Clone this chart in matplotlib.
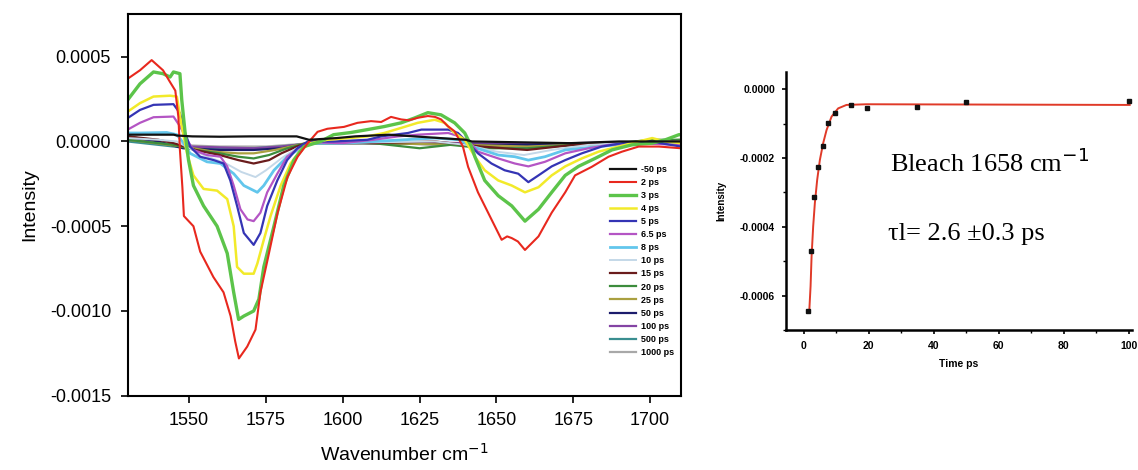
import matplotlib
matplotlib.use("Agg")
import matplotlib.pyplot as plt
import numpy as np
from matplotlib.ticker import MultipleLocator

plt.rcParams['font.family'] = ['Liberation Sans', 'DejaVu Sans']

# transient IR spectra, intensity in units of 1e-4
wn_m50 = [1530, 1545, 1546, 1551, 1560, 1570, 1585, 1589, 1598, 1604, 1615, 1640, 1642, 1674, 1690, 1710]
int_m50 = [0.4, 0.4, 0.35, 0.3, 0.28, 0.3, 0.3, 0.1, 0.2, 0.3, 0.4, 0.1, 0, -0.1, 0, 0]

wn_2 = [1530, 1534, 1537.8, 1541.5, 1543.8, 1545.5, 1546.5, 1547, 1547.8, 1548.3, 1551.4, 1553.6, 1557.9,
        1561.2, 1563.5, 1565, 1566.2, 1568.9, 1571.6, 1573.2, 1575.5, 1578.8, 1582, 1585.3, 1588.6, 1591.8,
        1595, 1600.4, 1604.8, 1609.2, 1612.5, 1615.7, 1619, 1621.5, 1624.5, 1627.7, 1630, 1632, 1634.2,
        1636.4, 1639.1, 1640.8, 1644, 1647.3, 1651.7, 1653.5, 1655, 1657, 1659.3, 1661.5, 1663.7, 1668,
        1672.4, 1675.6, 1681, 1686.5, 1690.9, 1696.3, 1702.9, 1710]
int_2 = [3.7, 4.2, 4.8, 4.2, 3.5, 3.0, 1.45, -0.5, -2.7, -4.4, -5.0, -6.5, -8.0,
         -8.9, -10.3, -11.8, -12.8, -12.1, -11.1, -8.9, -7.0, -4.2, -2.1, -0.9, -0.1, 0.57,
         0.75, 0.86, 1.1, 1.2, 1.15, 1.45, 1.3, 1.25, 1.4, 1.5, 1.45, 1.3, 0.9,
         0.6, -0.3, -1.5, -3.0, -4.2, -5.8, -5.6, -5.7, -5.9, -6.4, -6.0, -5.6, -4.2,
         -3.0, -2.0, -1.5, -0.9, -0.6, -0.3, -0.3, -0.4]

wn_3 = [1530, 1534, 1538.4, 1541.5, 1543.8, 1544.9, 1547, 1547.6, 1548.7, 1549.8, 1551.4, 1554.7, 1559.1,
        1562.4, 1564.5, 1566.1, 1567.8, 1571, 1572.7, 1574.3, 1577.6, 1580.8, 1584.1, 1587.4, 1592.8, 1597,
        1602.7, 1608, 1613.5, 1619, 1623.3, 1627.7, 1632, 1636.4, 1639.7, 1641.9, 1643, 1646.2, 1650.6,
        1655, 1659.3, 1663.7, 1668, 1672.4, 1676.7, 1682.1, 1687.6, 1694.1, 1700.7, 1705, 1709.4, 1710]
int_3 = [2.45, 3.4, 4.1, 4.0, 3.8, 4.1, 4.0, 2.45, 0.5, -1.1, -2.6, -3.8, -5.0,
         -6.6, -8.9, -10.5, -10.3, -10.0, -9.3, -7.4, -5.0, -2.6, -1.1, -0.3, 0, 0.4,
         0.53, 0.7, 0.88, 1.1, 1.38, 1.7, 1.57, 1.1, 0.5, -0.3, -0.9, -2.3, -3.2,
         -3.8, -4.7, -4.0, -3.0, -2.0, -1.47, -1.0, -0.5, -0.2, -0.1, 0.1, 0.4, 0.4]

wn_4 = [1530, 1534, 1538.4, 1543.8, 1546, 1547.6, 1549.3, 1551.4, 1554.7, 1559.1, 1562.4, 1564.5, 1565.6,
        1567.8, 1571, 1572.2, 1574.3, 1576.5, 1579.8, 1583, 1586.3, 1589.6, 1595, 1602, 1608, 1613.5,
        1619, 1624.4, 1629.9, 1633.2, 1636.4, 1639.7, 1643, 1646.2, 1650.6, 1655, 1659.3, 1663.7, 1668,
        1672.4, 1677.8, 1683.3, 1689.8, 1696.3, 1700.7, 1705, 1710]
int_4 = [1.76, 2.26, 2.65, 2.7, 2.65, 0.9, -0.7, -2.0, -2.8, -2.9, -3.4, -5.0, -7.4,
         -7.8, -7.8, -7.2, -5.8, -4.4, -2.6, -1.3, -0.5, -0.1, 0.1, 0.2, 0.3, 0.5,
         0.8, 1.1, 1.28, 1.1, 0.5, 0.1, -0.9, -1.7, -2.3, -2.6, -3.0, -2.7, -2.0,
         -1.47, -1.0, -0.6, -0.3, 0, 0.2, 0, -0.1]

wn_5 = [1530, 1534, 1538.4, 1544.9, 1547, 1548.7, 1550.3, 1553.6, 1558, 1561.2, 1563.4, 1565.6, 1567.8,
        1571, 1573.2, 1575.4, 1578.7, 1581.9, 1585.2, 1588.6, 1597, 1608, 1612.5, 1621.2, 1625.6, 1634.3,
        1637.5, 1640.8, 1644, 1648.4, 1652.7, 1657.1, 1660.4, 1663.7, 1668, 1672.4, 1677.8, 1684.3,
        1690.9, 1700, 1710]
int_5 = [1.38, 1.86, 2.16, 2.2, 1.67, 0.5, -0.3, -0.9, -1.1, -1.3, -2.3, -3.8, -5.4,
         -6.1, -5.4, -3.8, -2.3, -1.1, -0.4, 0, 0, 0.1, 0.3, 0.5, 0.7, 0.7,
         0.5, -0.1, -0.7, -1.3, -1.7, -1.9, -2.4, -2.0, -1.47, -1.1, -0.7, -0.3,
         -0.1, 0, -0.3]

wn_6p5 = [1530, 1534, 1538.4, 1544.9, 1547, 1549.3, 1551.4, 1555.8, 1560.2, 1562.4, 1564.5, 1566.7, 1569,
          1571, 1573.2, 1575.4, 1578.7, 1581.9, 1586.3, 1590, 1600, 1610, 1618, 1624.4, 1634.3, 1638,
          1641, 1644, 1650.6, 1656, 1660.4, 1665.8, 1672.4, 1680, 1686.5, 1695, 1710]
int_6p5 = [0.7, 1.1, 1.43, 1.47, 0.9, 0.1, -0.5, -0.8, -0.9, -1.47, -2.6, -4.0, -4.6,
           -4.7, -4.2, -3.0, -1.9, -0.9, -0.3, -0.05, -0.1, 0.1, 0.3, 0.4, 0.5, 0.3,
           0, -0.6, -1.0, -1.3, -1.47, -1.2, -0.7, -0.4, -0.2, -0.1, -0.2]

wn_8 = [1530, 1534, 1542.7, 1546, 1548.2, 1550.3, 1555.8, 1560.2, 1564.5, 1567.8, 1572.2, 1574.3, 1577.6,
        1581.9, 1586.3, 1589.6, 1600, 1610, 1620, 1630, 1638, 1642, 1650.6, 1656, 1660.4, 1665.8,
        1672.4, 1683.3, 1695, 1710]
int_8 = [0.5, 0.5, 0.53, 0.4, -0.1, -0.7, -1.2, -1.3, -1.9, -2.6, -3.0, -2.6, -1.7,
         -0.9, -0.4, -0.1, -0.1, 0, 0.1, 0.2, 0.1, -0.3, -0.8, -0.9, -1.1, -0.9,
         -0.5, -0.3, -0.1, -0.1]

wn_10 = [1530, 1540, 1546, 1550, 1556, 1562, 1567, 1571.6, 1575, 1580, 1585, 1590, 1610, 1630, 1640,
         1650, 1659, 1668, 1680, 1695, 1710]
int_10 = [0.2, 0.1, 0, -0.4, -0.9, -1.3, -1.8, -2.1, -1.7, -1.0, -0.4, -0.1, -0.05, 0, -0.2,
          -0.6, -0.8, -0.5, -0.2, -0.05, 0]

wn_15 = [1530, 1540, 1545, 1552, 1560, 1566, 1571, 1576, 1580, 1585, 1590, 1610, 1630, 1645, 1660, 1675, 1690, 1710]
int_15 = [0.3, 0.1, -0.1, -0.5, -0.8, -1.1, -1.3, -1.1, -0.7, -0.3, 0, -0.1, 0, -0.3, -0.5, -0.2, -0.05, 0]

wn_20 = [1530, 1545, 1552, 1560, 1566, 1571, 1576, 1582, 1590, 1610, 1625, 1635, 1646, 1660, 1675, 1690, 1700, 1710]
int_20 = [0.1, -0.2, -0.5, -0.7, -0.9, -1.0, -0.8, -0.4, 0, -0.1, -0.4, -0.2, -0.4, -0.4, -0.2, -0.1, 0.1, 0.1]

wn_25 = [1530, 1548, 1558, 1566, 1571, 1578, 1588, 1610, 1640, 1660, 1690, 1710]
int_25 = [0.1, -0.3, -0.6, -0.7, -0.7, -0.5, -0.1, -0.1, -0.2, -0.3, -0.1, 0.1]

wn_50 = [1530, 1540, 1548, 1560, 1571, 1580, 1590, 1610, 1640, 1660, 1690, 1710]
int_50 = [0.3, 0.0, -0.4, -0.5, -0.5, -0.4, -0.1, -0.1, -0.2, -0.2, -0.05, -0.1]

wn_100 = [1530, 1540, 1550, 1560, 1571, 1580, 1590, 1610, 1640, 1660, 1690, 1710]
int_100 = [0.2, -0.1, -0.3, -0.35, -0.4, -0.3, -0.1, 0, -0.1, -0.15, -0.05, -0.05]

wn_500 = [1530, 1540, 1550, 1560, 1571, 1580, 1590, 1610, 1630, 1645, 1660, 1690, 1710]
int_500 = [0.0, -0.2, -0.4, -0.4, -0.4, -0.3, -0.1, -0.1, -0.1, -0.3, -0.3, -0.1, -0.1]

wn_1000 = [1530, 1545, 1560, 1575, 1590, 1610, 1640, 1660, 1690, 1710]
int_1000 = [0.1, -0.2, -0.3, -0.3, -0.1, -0.1, -0.15, -0.2, -0.1, 0]

labels = ["-50 ps", "2 ps", "3 ps", "4 ps", "5 ps", "6.5 ps", "8 ps", "10 ps", "15 ps",
          "20 ps", "25 ps", "50 ps", "100 ps", "500 ps", "1000 ps"]
colors = ["#111111", "#e8281e", "#5cc44a", "#f2ea2a", "#3434b4", "#b455c4", "#62c6ec", "#c4d8e8",
          "#6a1c1c", "#3c8c3c", "#aaa040", "#1c1c6c", "#8444a4", "#3a8e90", "#a8a8a8"]
widths = [1.6, 1.5, 2.4, 1.8, 1.6, 1.6, 2.0, 1.4, 1.6, 1.6, 1.6, 1.6, 1.6, 1.6, 1.6]

# kinetic trace of the 1658 cm-1 bleach, intensity in units of 1e-4
t_ps = [1.2, 2.2, 3.1, 4.3, 5.8, 7.4, 9.5, 14.5, 19.4, 34.8, 49.8, 100]
bleach = [-6.46, -4.72, -3.13, -2.26, -1.65, -0.99, -0.70, -0.46, -0.55, -0.52, -0.38, -0.35]
fit_t = [1.63, 2.06, 2.37, 2.86, 3.38, 4.09, 4.92, 5.94, 6.98, 8.52, 10.55, 13.1, 19.3, 100.3]
fit_y = [-6.5, -5.73, -4.86, -3.99, -3.31, -2.64, -2.06, -1.57, -1.19, -0.80, -0.56, -0.46, -0.44, -0.46]

spectra = [(wn_m50, int_m50), (wn_2, int_2), (wn_3, int_3), (wn_4, int_4), (wn_5, int_5),
           (wn_6p5, int_6p5), (wn_8, int_8), (wn_10, int_10), (wn_15, int_15), (wn_20, int_20),
           (wn_25, int_25), (wn_50, int_50), (wn_100, int_100), (wn_500, int_500), (wn_1000, int_1000)]

fig = plt.figure(figsize=(11.38, 4.70), dpi=100)
ax = fig.add_axes([0.1122, 0.158, 0.486, 0.8115])

# draw faint ones first, then the big ones on top, keeping legend order
order = list(range(len(spectra)))[::-1]
handles = {}
for i in order:
    wn, val = spectra[i]
    h, = ax.plot(wn, np.array(val) * 1e-4, color=colors[i], lw=widths[i], label=labels[i])
    handles[i] = h

ax.set_xlim(1530, 1710)
ax.set_ylim(-0.0015, 0.00075)
ax.set_xticks([1550, 1575, 1600, 1625, 1650, 1675, 1700])
ax.set_yticks([-0.0015, -0.0010, -0.0005, 0.0, 0.0005])
ax.yaxis.set_major_formatter(matplotlib.ticker.FuncFormatter(lambda v, p: f"{v:.4f}"))
ax.tick_params(labelsize=13, length=5, width=1.2, direction='out', pad=7)
for s in ax.spines.values():
    s.set_linewidth(1.5)
ax.set_xlabel("Wavenumber cm$^{-1}$", fontsize=14, labelpad=10)
ax.set_ylabel("Intensity", fontsize=14, labelpad=8)

leg = ax.legend([handles[i] for i in range(len(spectra))], labels, loc='upper left',
                bbox_to_anchor=(0.872, 0.605), frameon=False,
                prop={'weight': 'bold', 'size': 6.5}, handlelength=2.9, handletextpad=0.5,
                labelspacing=0.45, borderpad=0, borderaxespad=0)

# right panel: bleach recovery
ax2 = fig.add_axes([0.6907, 0.298, 0.304, 0.549])
ax2.plot(fit_t, np.array(fit_y) * 1e-4, color="#e03a28", lw=1.4)
ax2.plot(t_ps, np.array(bleach) * 1e-4, 's', color="#111111", ms=2.6)
ax2.set_xlim(-5.5, 101)
ax2.set_ylim(-0.0007, 0.00005)
ax2.xaxis.set_major_locator(MultipleLocator(20))
ax2.xaxis.set_minor_locator(MultipleLocator(10))
ax2.yaxis.set_major_locator(MultipleLocator(0.0002))
ax2.yaxis.set_minor_locator(MultipleLocator(0.0001))
ax2.yaxis.set_major_formatter(matplotlib.ticker.FuncFormatter(lambda v, p: f"{v:.4f}"))
for lab in ax2.get_xticklabels() + ax2.get_yticklabels():
    lab.set_fontweight('bold')
ax2.tick_params(labelsize=7.5, length=3, width=1.2, direction='out', pad=5)
ax2.tick_params(which='minor', length=2, width=1)
ax2.spines['top'].set_visible(False)
ax2.spines['right'].set_visible(False)
ax2.spines['left'].set_linewidth(1.8)
ax2.spines['bottom'].set_linewidth(1.8)
ax2.set_xlabel("Time ps", fontsize=7.5, fontweight='bold', labelpad=6)
ax2.set_ylabel("Intensity", fontsize=7, fontweight='bold', labelpad=10)

ax2.text(26.5, -0.000241, "Bleach 1658 cm$^{-1}$", family='Liberation Serif', fontsize=19,
         va='baseline', ha='left')
ax2.text(25.8, -0.000438, "\u03c4l= 2.6 \u00b10.3 ps", family='Liberation Serif', fontsize=19,
         va='baseline', ha='left')

fig.savefig("out.png", dpi=100)
